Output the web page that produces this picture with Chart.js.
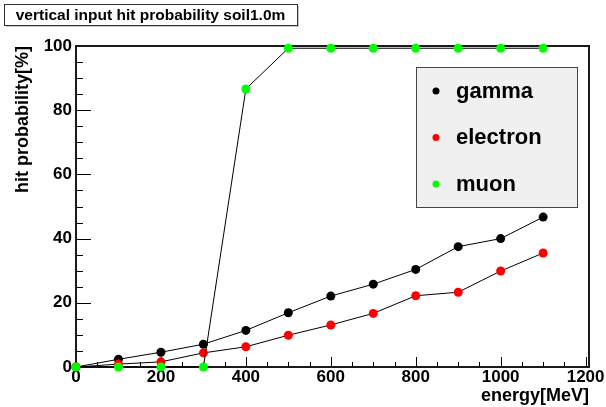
<!DOCTYPE html>
<html>
<head>
<meta charset="utf-8">
<script src="https://cdn.jsdelivr.net/npm/chart.js@4/dist/chart.umd.min.js"></script>
<style>
  html, body { margin: 0; padding: 0; background: #ffffff; }
  #wrap { width: 606px; height: 407px; position: relative; }
</style>
</head>
<body>
<div id="wrap"><canvas id="c" width="606" height="407"></canvas></div>
<script>
// Beam energy of each run [MeV]
const energies = [0, 100, 200, 300, 400, 500, 600, 700, 800, 900, 1000, 1100];
// Hit probability [%] per particle type
const gamma    = [0, 2.4, 4.6, 7.1, 11.4, 16.9, 22.1, 25.8, 30.4, 37.5, 40.0, 46.7];
const electron = [0, 0.9, 1.6, 4.4, 6.3, 9.9, 13.1, 16.7, 22.2, 23.3, 29.9, 35.5];
const muon     = [0, 0, 0, 0, 86.6, 99.3, 99.3, 99.3, 99.3, 99.3, 99.3, 99.3];
// Axis tick labels
const xTicks = [0, 200, 400, 600, 800, 1000, 1200];
const yTicks = [0, 20, 40, 60, 80, 100];
const seriesNames = ['gamma', 'electron', 'muon'];
const seriesColors = ['#000000', '#ff0000', '#00ff00'];

const FONT = "'Liberation Sans', Arial, Helvetica, sans-serif";

function pts(ys) { return energies.map((e, i) => ({ x: e, y: ys[i] })); }

// Frame plus ticks drawn on the inner side of the axes
const framePlugin = {
  id: 'frame',
  beforeDatasetsDraw(chart) {
    const { ctx, chartArea: a, scales: { x, y } } = chart;
    ctx.save();
    ctx.strokeStyle = '#000';
    ctx.lineWidth = 1;
    // x ticks: major every 200, minor every 50
    for (let v = 0; v <= 1200; v += 50) {
      const px = Math.round(x.getPixelForValue(v)) + 0.5;
      const len = (v % 200 === 0) ? 10 : 5;
      ctx.beginPath(); ctx.moveTo(px, a.bottom); ctx.lineTo(px, a.bottom - len); ctx.stroke();
    }
    // y ticks: major every 20, minor every 5
    for (let v = 0; v <= 100; v += 5) {
      const py = Math.round(y.getPixelForValue(v)) + 0.5;
      const len = (v % 20 === 0) ? 15 : 7;
      ctx.beginPath(); ctx.moveTo(a.left, py); ctx.lineTo(a.left + len, py); ctx.stroke();
    }
    ctx.lineWidth = 2;
    ctx.strokeStyle = '#1a1a1a';
    ctx.strokeRect(a.left, a.top, a.right - a.left, a.bottom - a.top);
    ctx.restore();
  }
};

// Title pave and legend box
const pavePlugin = {
  id: 'paves',
  afterDraw(chart) {
    const ctx = chart.ctx;
    ctx.save();
    // title box with shadow
    const tx = 4, ty = 4, tw = 293, th = 21;
    ctx.fillStyle = '#c8c8c8';
    ctx.fillRect(tx + 2, ty + 2, tw, th);
    ctx.fillStyle = '#ffffff';
    ctx.fillRect(tx, ty, tw, th);
    ctx.strokeStyle = '#333';
    ctx.lineWidth = 1;
    ctx.strokeRect(tx + 0.5, ty + 0.5, tw, th);
    ctx.fillStyle = '#000';
    ctx.font = 'bold 15.5px ' + FONT;
    ctx.textAlign = 'center';
    ctx.textBaseline = 'middle';
    ctx.fillText('vertical input hit probability soil1.0m', tx + tw / 2, ty + th / 2 + 1);

    // legend
    const lx = 416, ly = 67, lw = 161, lh = 140;
    ctx.fillStyle = '#f0f0f0';
    ctx.fillRect(lx, ly, lw, lh);
    ctx.strokeStyle = '#444';
    ctx.strokeRect(lx + 0.5, ly + 0.5, lw, lh);
    const rows = [91, 137.5, 184];
    ctx.font = 'bold 22px ' + FONT;
    ctx.textAlign = 'left';
    ctx.textBaseline = 'alphabetic';
    seriesNames.forEach((n, i) => {
      ctx.fillStyle = seriesColors[i];
      ctx.beginPath(); ctx.arc(436, rows[i], 3.5, 0, Math.PI * 2); ctx.fill();
      ctx.fillStyle = '#000';
      ctx.fillText(n, 456, rows[i] + 6.5);
    });
    ctx.restore();
  }
};

const mkSet = (label, data, color, order) => ({
  label, data: pts(data), order,
  borderColor: '#000', borderWidth: 1, tension: 0,
  pointRadius: 4.5, pointBackgroundColor: color, pointBorderColor: color, pointBorderWidth: 0,
  pointHoverRadius: 4.5, clip: false, fill: false
});

new Chart(document.getElementById('c'), {
  type: 'line',
  data: {
    datasets: [
      mkSet(seriesNames[0], gamma, seriesColors[0], 3),
      mkSet(seriesNames[1], electron, seriesColors[1], 2),
      mkSet(seriesNames[2], muon, seriesColors[2], 1)
    ]
  },
  options: {
    responsive: false,
    devicePixelRatio: 1,
    animation: false,
    layout: { padding: { left: 0, right: 17, top: 46, bottom: 0 } },
    plugins: { legend: { display: false }, tooltip: { enabled: false }, title: { display: false } },
    scales: {
      x: {
        type: 'linear', min: 0, max: 1208,
        grid: { display: false, drawTicks: false },
        border: { display: false },
        afterBuildTicks: s => { s.ticks = xTicks.map(v => ({ value: v })); },
        afterFit: s => { s.height = 40; s.paddingLeft = 0; s.paddingRight = 0; },
        ticks: { color: '#000', padding: 0, maxRotation: 0, autoSkip: false,
                 callback: v => String(v),
                 font: { family: FONT, weight: 'bold', size: 17, lineHeight: 1.2 } },
        title: { display: true, text: 'energy[MeV]', align: 'end', color: '#000',
                 padding: 0, font: { family: FONT, weight: 'bold', size: 18, lineHeight: 1.2 } }
      },
      y: {
        type: 'linear', min: 0, max: 100,
        grid: { display: false, drawTicks: false },
        border: { display: false },
        afterBuildTicks: s => { s.ticks = yTicks.map(v => ({ value: v })); },
        afterFit: s => { s.width = 76; s.paddingTop = 0; s.paddingBottom = 0; },
        ticks: { color: '#000', padding: 4, autoSkip: false,
                 callback: v => String(v),
                 font: { family: FONT, weight: 'bold', size: 17, lineHeight: 1.2 } },
        title: { display: true, text: 'hit probability[%]', align: 'end', color: '#000',
                 padding: { top: 12, bottom: 0 },
                 font: { family: FONT, weight: 'bold', size: 18, lineHeight: 1.2 } }
      }
    }
  },
  plugins: [framePlugin, pavePlugin]
});
</script>
</body>
</html>
